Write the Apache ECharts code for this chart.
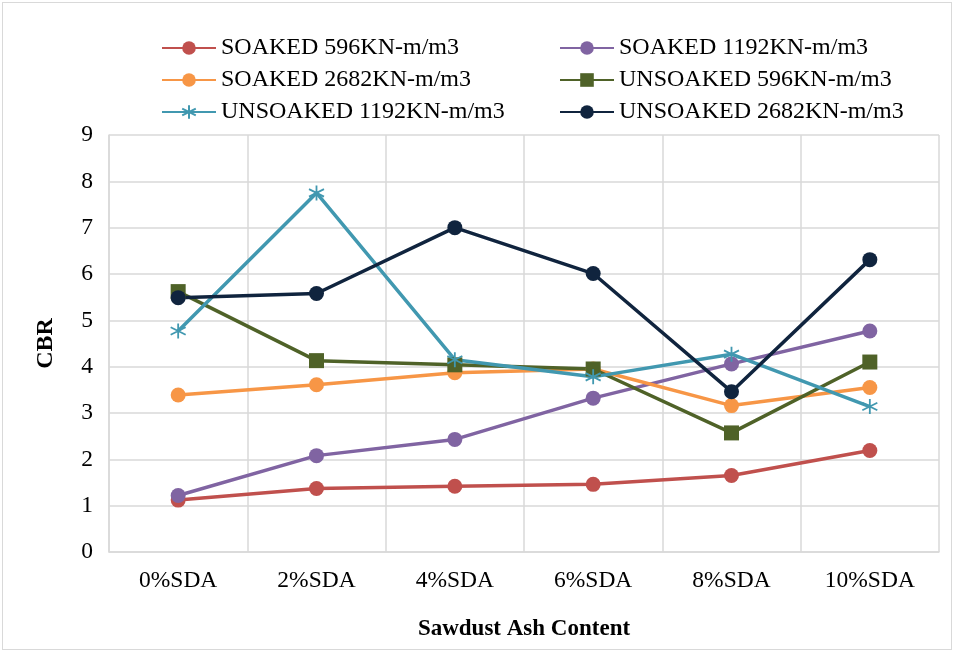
<!DOCTYPE html>
<html>
<head>
<meta charset="utf-8" />
<script src="https://cdn.jsdelivr.net/npm/echarts@6/dist/echarts.min.js"></script>
<style>
  html, body { margin: 0; padding: 0; background: #fff; }
  #box {
    position: absolute; left: 2px; top: 2px;
    width: 950px; height: 648px;
    border: 1px solid #d9d9d9; box-sizing: border-box;
  }
  #chart { width: 100%; height: 100%; }
</style>
</head>
<body>
<div id="box"><div id="chart"></div></div>
<script>
// x轴分类
var categories = ["0%SDA", "2%SDA", "4%SDA", "6%SDA", "8%SDA", "10%SDA"];
// 各曲线数值 (CBR)
var soaked596 = [1.12, 1.37, 1.42, 1.46, 1.65, 2.19];
var soaked1192 = [1.22, 2.08, 2.43, 3.32, 4.06, 4.77];
var soaked2682 = [3.39, 3.61, 3.87, 3.95, 3.16, 3.55];
var unsoaked596 = [5.62, 4.13, 4.04, 3.95, 2.57, 4.1];
var unsoaked1192 = [4.77, 7.75, 4.15, 3.78, 4.27, 3.14];
var unsoaked2682 = [5.49, 5.58, 7.0, 6.01, 3.46, 6.31];
var yTicks = [0, 1, 2, 3, 4, 5, 6, 7, 8, 9];

var font = "'Liberation Serif', 'Times New Roman', serif";
var star = "path://M0,-10L0,10M-8.7,-5L8.7,5M-8.7,5L8.7,-5";

function makeSeries(name, data, color, symbol, size) {
  var s = {
    name: name,
    type: "line",
    data: data,
    symbol: symbol,
    symbolSize: size,
    showAllSymbol: true,
    lineStyle: { color: color, width: 3.5 },
    itemStyle: { color: color },
    emphasis: { disabled: true },
  };
  if (symbol === star) {
    // 星号只有描边
    s.itemStyle = { color: color, borderColor: color, borderWidth: 1.8 };
  }
  return s;
}

var legendText = { fontFamily: font, fontSize: 24, color: "#000", lineHeight: 24 };

var myChart = echarts.init(document.getElementById("chart"));
var option = {
  animation: false,
  textStyle: { fontFamily: font },
  legend: [
    {
      orient: "vertical",
      left: 153,
      top: 28,
      itemWidth: 54,
      itemHeight: 17,
      itemGap: 8,
      textStyle: legendText,
      data: ["SOAKED 596KN-m/m3", "SOAKED 2682KN-m/m3", "UNSOAKED 1192KN-m/m3"],
    },
    {
      orient: "vertical",
      left: 551,
      top: 28,
      itemWidth: 54,
      itemHeight: 17,
      itemGap: 8,
      textStyle: legendText,
      data: ["SOAKED 1192KN-m/m3", "UNSOAKED 596KN-m/m3", "UNSOAKED 2682KN-m/m3"],
    },
  ],
  grid: {
    left: 106,
    right: 12,
    top: 132,
    bottom: 97,
  },
  xAxis: {
    type: "category",
    data: categories,
    boundaryGap: true,
    name: "Sawdust Ash Content",
    nameLocation: "middle",
    nameGap: 66,
    nameTextStyle: { fontFamily: font, fontSize: 23, fontWeight: "bold", color: "#000" },
    axisLine: { show: true, lineStyle: { color: "#d9d9d9", width: 1.5 } },
    axisTick: { show: false },
    axisLabel: { fontFamily: font, fontSize: 23.5, color: "#000", margin: 17 },
    splitLine: { show: true, lineStyle: { color: "#d9d9d9", width: 1.5 } },
  },
  yAxis: {
    type: "value",
    min: yTicks[0],
    max: yTicks[yTicks.length - 1],
    interval: 1,
    name: "CBR",
    nameLocation: "middle",
    nameGap: 51,
    nameTextStyle: { fontFamily: font, fontSize: 24, fontWeight: "bold", color: "#000" },
    axisLine: { show: true, lineStyle: { color: "#d9d9d9", width: 1.5 } },
    axisTick: { show: false },
    axisLabel: { fontFamily: font, fontSize: 23.5, color: "#000", margin: 16 },
    splitLine: { show: true, lineStyle: { color: "#d9d9d9", width: 1.5 } },
  },
  series: [
    makeSeries("SOAKED 596KN-m/m3", soaked596, "#c0504d", "circle", 15),
    makeSeries("SOAKED 1192KN-m/m3", soaked1192, "#8064a2", "circle", 15),
    makeSeries("SOAKED 2682KN-m/m3", soaked2682, "#f79646", "circle", 15),
    makeSeries("UNSOAKED 596KN-m/m3", unsoaked596, "#4f6228", "rect", 15),
    makeSeries("UNSOAKED 1192KN-m/m3", unsoaked1192, "#4198b0", star, 15),
    makeSeries("UNSOAKED 2682KN-m/m3", unsoaked2682, "#10243e", "circle", 15),
  ],
};
myChart.setOption(option);
window.onresize = myChart.resize;
</script>
</body>
</html>
